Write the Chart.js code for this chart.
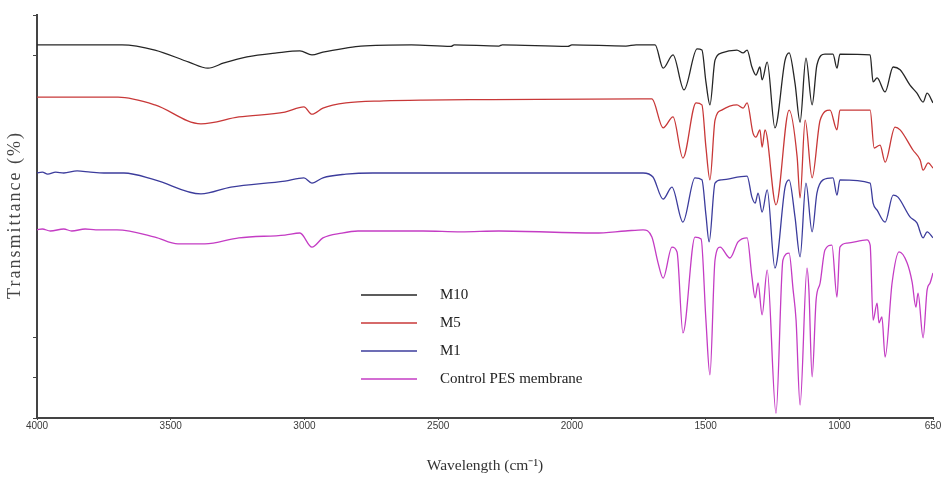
<!DOCTYPE html>
<html>
<head>
<meta charset="utf-8">
<script src="https://cdn.jsdelivr.net/npm/chart.js@4.4.1/dist/chart.umd.min.js"></script>
<style>
  html, body { margin: 0; padding: 0; background: #fff; }
  #wrap { width: 944px; height: 477px; }
</style>
</head>
<body>
<div id="wrap"><canvas id="ftirChart" width="944" height="477"></canvas></div>
<script>
// FTIR spectra, wavenumber (cm-1) against transmittance, curves offset vertically
const m10Wn = [4000, 3682, 3559, 3432, 3361, 3301, 3215, 3103, 3017, 2972, 2931, 2845, 2789, 2600, 2452, 2440, 2273, 2260, 2015, 2000, 1798, 1760, 1689,
  1659, 1622, 1581, 1532, 1514, 1499, 1484, 1465, 1440, 1383, 1360, 1345, 1327, 1312, 1297, 1289, 1270, 1241, 1203, 1188, 1166, 1147, 1125, 1102,
  1084, 1054, 1024, 1009, 998, 885, 874, 859, 829, 799, 773, 736, 710, 687, 672, 650];
const m10T = [92.6, 92.6, 91.3, 88.3, 86.8, 88.1, 89.6, 90.6, 91.1, 90.1, 90.8, 91.8, 92.3, 92.6, 92.2, 92.6, 92.3, 92.6, 92.2, 92.6, 92.3, 92.6, 92.6,
  86.8, 90.1, 81.4, 91.6, 91.3, 83.4, 77.7, 88.8, 90.6, 91.3, 90.6, 91.3, 87.1, 85.1, 87.1, 83.9, 88.3, 72.0, 88.8, 90.6, 83.1, 73.4, 89.3, 77.7,
  87.6, 90.3, 90.3, 86.8, 90.3, 90.1, 83.4, 84.4, 80.9, 87.1, 86.4, 82.6, 80.6, 78.4, 80.6, 78.2];

const m5Wn = [4000, 3697, 3559, 3387, 3245, 3073, 3002, 2972, 2931, 2845, 2703, 2557, 2300, 1745, 1701,
  1659, 1622, 1585, 1536, 1514, 1499, 1484, 1465, 1440, 1383, 1360, 1345, 1323, 1312, 1297, 1289, 1278, 1237, 1188, 1158, 1147, 1128, 1102,
  1072, 1035, 1009, 998, 885, 870, 848, 829, 792, 773, 725, 698, 687, 668, 650];
const m5T = [79.6, 79.6, 77.7, 73.0, 74.7, 75.9, 77.2, 75.4, 76.9, 78.2, 78.7, 78.9, 79.0, 79.2, 79.2,
  72.0, 74.7, 64.5, 78.2, 77.7, 67.2, 59.1, 73.9, 76.4, 77.7, 76.9, 78.2, 70.7, 69.7, 71.5, 67.2, 71.5, 52.9, 76.4, 64.8, 54.6, 73.9, 59.6,
  73.9, 76.4, 71.5, 76.4, 76.4, 67.0, 67.7, 63.5, 72.2, 71.5, 66.5, 64.0, 61.5, 63.3, 62.0];

const m1Wn = [4000, 3980, 3960, 3930, 3900, 3850, 3800, 3750, 3675, 3559, 3387, 3275, 3073, 3002, 2972, 2931, 2845, 2744, 1734, 1697,
  1659, 1626, 1585, 1540, 1514, 1499, 1487, 1465, 1440, 1345, 1327, 1315, 1304, 1289, 1270, 1241, 1203, 1188, 1166, 1147, 1125, 1102,
  1084, 1061, 1024, 1009, 998, 885, 874, 859, 829, 799, 781, 736, 710, 687, 672, 650];
const m1T = [60.8, 61.0, 60.5, 61.0, 60.8, 61.3, 61.0, 60.8, 60.8, 59.1, 55.6, 57.3, 58.8, 59.6, 58.3, 59.6, 60.5, 60.8, 60.8, 59.8,
  54.3, 57.3, 48.6, 59.6, 59.1, 50.4, 43.7, 58.3, 59.1, 60.0, 54.8, 53.3, 55.8, 51.1, 56.6, 37.2, 57.3, 59.1, 49.9, 40.0, 58.3, 46.2,
  55.8, 59.1, 59.6, 55.3, 59.1, 58.3, 53.3, 51.6, 48.6, 55.3, 54.8, 49.9, 48.4, 44.7, 46.2, 44.7];

const pesWn = [4000, 3980, 3950, 3900, 3870, 3820, 3780, 3701, 3559, 3473, 3372, 3245, 3073, 3017, 2972, 2931, 2860, 2800, 2557, 2415, 2273,
  1914, 1800, 1734, 1701, 1678, 1659, 1626, 1607, 1585, 1540, 1517, 1499, 1484, 1465, 1446, 1409, 1379, 1345, 1327, 1315, 1304, 1289,
  1270, 1237, 1211, 1188, 1173, 1162, 1147, 1121, 1114, 1102, 1087, 1072, 1054, 1028, 1009, 998, 971, 897, 885, 874, 859, 852, 841,
  829, 803, 777, 747, 728, 714, 706, 687, 672, 661, 650];
const pesT = [46.7, 46.9, 46.4, 46.9, 46.4, 46.9, 46.7, 46.7, 44.9, 43.2, 43.2, 44.7, 45.4, 45.9, 42.4, 44.7, 45.9, 46.4, 46.4, 46.2, 46.4,
  45.9, 46.4, 46.7, 44.9, 38.5, 34.7, 42.4, 41.2, 21.1, 44.9, 44.4, 24.3, 10.7, 39.2, 42.4, 39.7, 43.7, 44.7, 35.0, 29.8, 33.5, 25.6,
  36.7, 1.2, 39.2, 40.9, 31.8, 24.3, 3.2, 37.2, 31.8, 10.2, 29.3, 33.5, 41.7, 42.9, 30.0, 42.4, 43.4, 44.2, 42.9, 24.3, 28.5, 23.6, 25.1,
  15.1, 33.5, 41.2, 38.5, 33.7, 27.5, 31.0, 19.9, 31.8, 33.5, 36.0];

const seriesNames = ["M10", "M5", "M1", "Control PES membrane"];
const seriesColors = ["#262626", "#c83838", "#3c3c9c", "#c43cc4"];
const xTicks = [4000, 3500, 3000, 2500, 2000, 1500, 1000, 650];
const yTicks = [0, 10, 20, 90, 100];

function zip(wn, t) {
  return wn.map((w, i) => ({ x: w, y: t[i] }));
}

const spectra = [zip(m10Wn, m10T), zip(m5Wn, m5T), zip(m1Wn, m1T), zip(pesWn, pesT)];

// legend inside the plot plus the spaced-out y title
const overlay = {
  id: "overlay",
  afterDraw(chart) {
    const ctx = chart.ctx;
    const rows = [295, 323, 351, 379];
    ctx.save();
    chart.data.datasets.forEach((ds, i) => {
      ctx.strokeStyle = ds.borderColor;
      ctx.lineWidth = 1.5;
      ctx.beginPath();
      ctx.moveTo(361, rows[i]);
      ctx.lineTo(417, rows[i]);
      ctx.stroke();
      ctx.fillStyle = "#222";
      ctx.font = "15px 'Liberation Serif', serif";
      ctx.textBaseline = "middle";
      ctx.fillText(ds.label, 440, rows[i]);
    });
    ctx.restore();

    ctx.save();
    ctx.translate(15, 215);
    ctx.rotate(-Math.PI / 2);
    ctx.letterSpacing = "2px";
    ctx.font = "18px 'Liberation Serif', serif";
    ctx.fillStyle = "#444";
    ctx.textAlign = "center";
    ctx.textBaseline = "middle";
    ctx.fillText("Transmittance (%)", 0, 0);
    ctx.restore();
  },
};

new Chart(document.getElementById("ftirChart"), {
  type: "line",
  data: {
    datasets: spectra.map((pts, i) => ({
      label: seriesNames[i],
      data: pts,
      borderColor: seriesColors[i],
      borderWidth: 1.3,
      pointRadius: 0,
      cubicInterpolationMode: "monotone",
      fill: false,
    })),
  },
  options: {
    responsive: false,
    animation: false,
    devicePixelRatio: 1,
    layout: { padding: { top: 15, right: 11, left: 0, bottom: 0 } },
    plugins: {
      legend: { display: false },
      tooltip: { enabled: false },
    },
    scales: {
      x: {
        type: "linear",
        reverse: true,
        min: 650,
        max: 4000,
        afterBuildTicks: (scale) => {
          scale.ticks = xTicks.map((v) => ({ value: v }));
        },
        afterFit: (scale) => {
          scale.height = 59;
        },
        grid: { drawOnChartArea: false, drawTicks: true, tickLength: 2, color: "#444" },
        border: { color: "#444", width: 2 },
        ticks: {
          padding: 0,
          maxRotation: 0,
          color: "#3a3a3a",
          callback: (v) => String(v),
          font: { family: "'Liberation Sans Narrow', 'Liberation Sans', sans-serif", size: 10 },
        },
        title: {
          display: true,
          text: "Wavelength (cm⁻¹)",
          color: "#333",
          padding: { top: 0, bottom: 2 },
          font: { family: "'Liberation Serif', serif", size: 15.5 },
        },
      },
      y: {
        min: 0,
        max: 100,
        afterBuildTicks: (scale) => {
          scale.ticks = yTicks.map((v) => ({ value: v }));
        },
        afterFit: (scale) => {
          scale.width = 37;
        },
        grid: { drawOnChartArea: false, drawTicks: true, tickLength: 4, color: "#444" },
        border: { color: "#444", width: 2 },
        ticks: { display: false },
        title: { display: false },
      },
    },
  },
  plugins: [overlay],
});
</script>
</body>
</html>
